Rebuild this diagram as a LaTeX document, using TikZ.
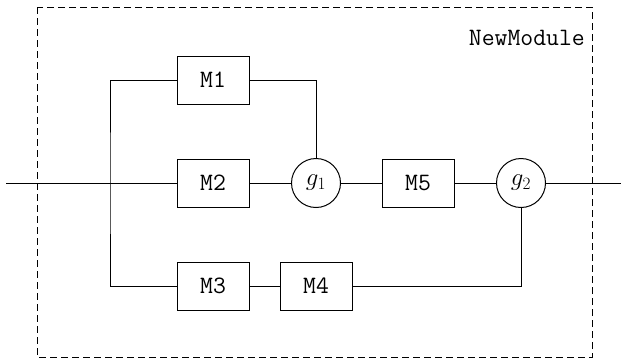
\documentclass[tikz,border=0pt]{standalone}
\begin{document}
\begin{tikzpicture}[x=1pt,y=-1pt,
  mod/.style={draw, line width=1pt, minimum width=72pt, minimum height=48pt, inner sep=0pt, font=\ttfamily\fontsize{25}{26}\selectfont},
  gate/.style={draw, circle, line width=1pt, minimum size=49pt, inner sep=0pt, font=\fontsize{25}{26}\selectfont},
  wire/.style={line width=1pt}]
\useasboundingbox (0,0) rectangle (621,360);
\draw[line width=1pt, dash pattern=on 7pt off 4pt] (37,7) rectangle (592,357);
\node[anchor=base east, font=\ttfamily\fontsize{25}{26}\selectfont, inner sep=0pt] (title) at (585,45) {NewModule};
\node[mod] (m1) at (213,80) {M1};
\node[mod] (m2) at (213,183) {M2};
\node[mod] (m3) at (213,286) {M3};
\node[mod] (m4) at (316,286) {M4};
\node[mod] (m5) at (418,183) {M5};
\node[gate] (g1) at (316,183) {$g_1$};
\node[gate] (g2) at (521,183) {$g_2$};
\coordinate (in) at (6,183);
\coordinate (out) at (621,183);
\coordinate (split) at (110,183);
\draw[wire] (in) -- (m2.west);
\draw[wire] (m1.west) -| (split) |- (m3.west);
\draw[wire] (m1.east) -| (g1.north);
\draw[wire] (m2.east) -- (g1.west);
\draw[wire] (g1.east) -- (m5.west);
\draw[wire] (m5.east) -- (g2.west);
\draw[wire] (m3.east) -- (m4.west);
\draw[wire] (m4.east) -| (g2.south);
\draw[wire] (g2.east) -- (out);
\end{tikzpicture}
\end{document}
